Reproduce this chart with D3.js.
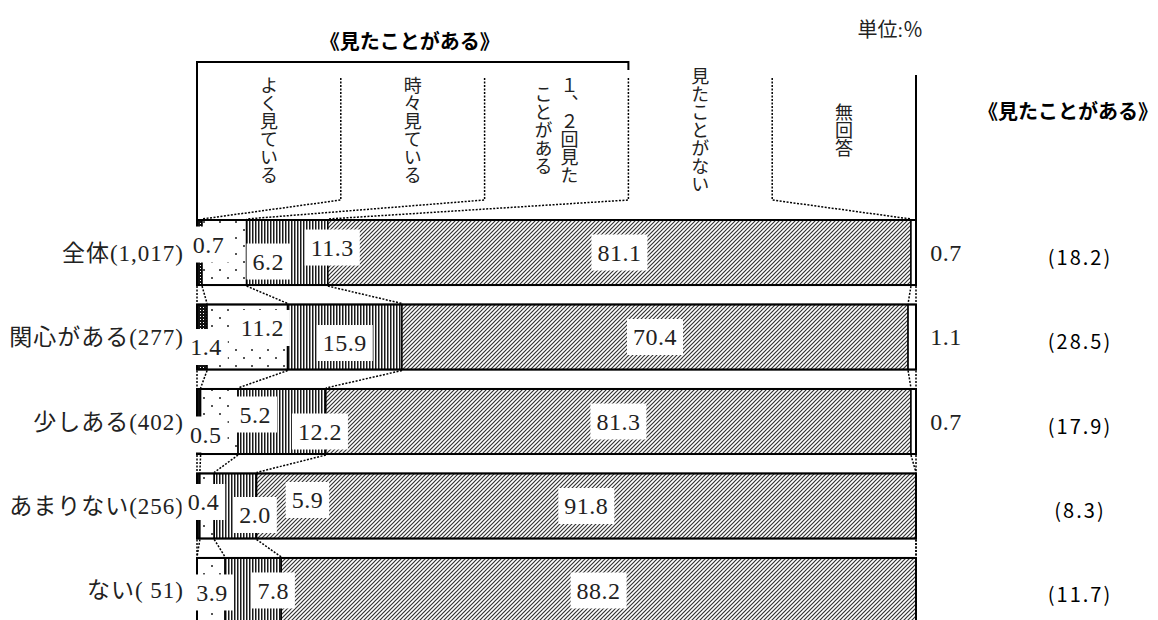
<!DOCTYPE html>
<html>
<head>
<meta charset="utf-8">
<script src="https://cdn.jsdelivr.net/npm/d3@7"></script>
<style>
  body { margin: 0; background: #fff; }
  svg { display: block; }
</style>
</head>
<body>
<svg width="1158" height="620"></svg>
<script>
// 回答者区分
var categories = ["全体(1,017)", "関心がある(277)", "少しある(402)", "あまりない(256)", "ない( 51)"];

// 各回答の割合（%）
var yokuMiteiru = [0.7, 1.4, 0.5, 0.4, 0.0];
var tokidokiMiteiru = [6.2, 11.2, 5.2, 2.0, 3.9];
var ichiNikaiMita = [11.3, 15.9, 12.2, 5.9, 7.8];
var mitaKotoNai = [81.1, 70.4, 81.3, 91.8, 88.2];
var muKaitou = [0.7, 1.1, 0.7, 0.0, 0.0];

// 《見たことがある》の合計
var mitaKotoAru = [18.2, 28.5, 17.9, 8.3, 11.7];

// 上の見出し（縦書き、列ごとに行を分ける）
var headerLabels = [["よく見ている"], ["時々見ている"], ["１、２回見た", "ことがある"], ["見たことがない"], ["無回答"]];

var keys = ["s0", "s1", "s2", "s3", "s4"];
var rows = categories.map(function (c, i) {
  return { cat: c, s0: yokuMiteiru[i], s1: tokidokiMiteiru[i], s2: ichiNikaiMita[i], s3: mitaKotoNai[i], s4: muKaitou[i] };
});
var stacked = d3.stack().keys(keys).offset(d3.stackOffsetExpand)(rows);

// 小さい値のラベル位置の微調整（px）
var labelNudge = [
  [[9, -8], [44, 9], [45, -5]],
  [[4, 10], [15, -9], [0, 6]],
  [[7, 13], [36, -7], [38, 10]],
  [[5, -4], [48, 9], [72, -6]],
  [[0, 0], [1, 2], [20, 0]]
];

var svg = d3.select("svg");
var serif = "'Liberation Serif', 'Noto Sans CJK JP', serif";
var sans = "'Noto Sans CJK JP', sans-serif";

var x = d3.scaleLinear().domain([0, 1]).range([197, 916]);
var y = d3.scaleBand().domain(categories).range([220, 623]).paddingInner(0.23);
var bw = y.bandwidth();

// patterns
var defs = svg.append("defs");
var p0 = defs.append("pattern").attr("id", "pat0").attr("patternUnits", "userSpaceOnUse")
  .attr("width", 3).attr("height", 3);
p0.append("rect").attr("width", 3).attr("height", 3).attr("fill", "#111");
p0.append("rect").attr("x", 2).attr("y", 1).attr("width", 1).attr("height", 1).attr("fill", "#fff");

var p1 = defs.append("pattern").attr("id", "pat1").attr("patternUnits", "userSpaceOnUse")
  .attr("width", 16).attr("height", 16);
p1.append("rect").attr("width", 16).attr("height", 16).attr("fill", "#fff");
p1.append("rect").attr("x", 3).attr("y", 5).attr("width", 2).attr("height", 2).attr("fill", "#555");
p1.append("rect").attr("x", 11).attr("y", 13).attr("width", 2).attr("height", 2).attr("fill", "#555");

var p2 = defs.append("pattern").attr("id", "pat2").attr("patternUnits", "userSpaceOnUse")
  .attr("width", 3).attr("height", 3);
p2.append("rect").attr("width", 3).attr("height", 3).attr("fill", "#fff");
p2.append("rect").attr("width", 1.5).attr("height", 3).attr("fill", "#1a1a1a");

var p3 = defs.append("pattern").attr("id", "pat3").attr("patternUnits", "userSpaceOnUse")
  .attr("width", 4).attr("height", 4);
p3.append("rect").attr("width", 4).attr("height", 4).attr("fill", "#fff");
p3.append("path").attr("d", "M-1,1 l2,-2 M0,4 l4,-4 M3,5 l2,-2")
  .attr("stroke", "#333").attr("stroke-width", 1.2);

var fills = ["url(#pat0)", "url(#pat1)", "url(#pat2)", "url(#pat3)", "#fff"];

// 棒
var layers = svg.append("g").selectAll("g")
  .data(stacked)
  .enter()
  .append("g")
  .attr("fill", function (d, k) { return fills[k]; });

layers.selectAll("rect")
  .data(function (d) { return d.filter(function (s) { return s[1] - s[0] > 0; }); })
  .enter()
  .append("rect")
  .attr("x", function (d) { return x(d[0]); })
  .attr("y", function (d) { return y(d.data.cat); })
  .attr("width", function (d) { return x(d[1]) - x(d[0]); })
  .attr("height", bw)
  .attr("stroke", "#000")
  .attr("stroke-width", 1.5);

svg.append("g").selectAll("rect")
  .data(categories)
  .enter()
  .append("rect")
  .attr("x", x(0))
  .attr("y", function (d) { return y(d); })
  .attr("width", x(1) - x(0))
  .attr("height", bw)
  .attr("fill", "none")
  .attr("stroke", "#000")
  .attr("stroke-width", 2);

// 棒と棒の間の点線
function boundary(i, k) {
  return k == 0 ? 0 : stacked[k - 1][i][1];
}
var connectors = [];
for (var i = 0; i < categories.length - 1; i++) {
  for (var k = 0; k <= keys.length; k++) {
    connectors.push({ from: boundary(i, k), to: boundary(i + 1, k), row: i });
  }
}
svg.append("g").selectAll("line")
  .data(connectors)
  .enter()
  .append("line")
  .attr("x1", function (d) { return x(d.from); })
  .attr("x2", function (d) { return x(d.to); })
  .attr("y1", function (d) { return y(categories[d.row]) + bw + 1; })
  .attr("y2", function (d) { return y(categories[d.row + 1]) - 1; })
  .attr("stroke", "#000")
  .attr("stroke-width", 1.5)
  .attr("stroke-dasharray", "2,1.5");

// 見出し
var head = svg.append("g");
var topY = y(categories[0]);
head.append("path")
  .attr("d", "M" + x(0) + "," + topY + "V62H" + x(0.6) + "V70")
  .attr("fill", "none").attr("stroke", "#000").attr("stroke-width", 2);
head.append("line")
  .attr("x1", x(1)).attr("x2", x(1)).attr("y1", 75).attr("y2", topY)
  .attr("stroke", "#000").attr("stroke-width", 2);

var dividers = [1, 2, 3, 4];
head.selectAll(".div")
  .data(dividers)
  .enter()
  .append("path")
  .attr("class", "div")
  .attr("d", function (k) {
    return "M" + x(k / 5) + ",78V200L" + x(boundary(0, k)) + "," + (topY - 1);
  })
  .attr("fill", "none")
  .attr("stroke", "#000")
  .attr("stroke-width", 1.5)
  .attr("stroke-dasharray", "2,1.5");

headerLabels.forEach(function (lines, c) {
  var cx = x((c + 0.5) / 5);
  lines.forEach(function (t, j) {
    var off = (lines.length - 1) * 13 - j * 26;
    head.append("text")
      .attr("x", cx + off)
      .attr("y", 130)
      .attr("text-anchor", "middle")
      .style("writing-mode", "vertical-rl")
      .style("font-family", sans)
      .style("font-size", "18px")
      .attr("fill", "#222")
      .text(t);
  });
});

head.append("text")
  .attr("x", x(0.3) - 3).attr("y", 49)
  .attr("text-anchor", "middle")
  .style("font-family", sans).style("font-size", "20px").style("font-weight", "bold")
  .text("《見たことがある》");

head.append("text")
  .attr("x", 923).attr("y", 37)
  .attr("text-anchor", "end")
  .style("font-family", serif).style("font-size", "20px")
  .attr("fill", "#222")
  .text("単位:％");

head.append("text")
  .attr("x", 1068).attr("y", 119)
  .attr("text-anchor", "middle")
  .style("font-family", sans).style("font-size", "20px").style("font-weight", "bold")
  .text("《見たことがある》");

// 区分ラベル
svg.append("g").selectAll("text")
  .data(categories)
  .enter()
  .append("text")
  .attr("x", 184)
  .attr("y", function (d) { return y(d) + bw / 2 + 8; })
  .attr("text-anchor", "end")
  .style("font-family", serif)
  .style("font-size", "23px")
  .style("letter-spacing", "1px")
  .attr("fill", "#222")
  .text(function (d) { return d; });

// 合計
svg.append("g").selectAll("text")
  .data(mitaKotoAru)
  .enter()
  .append("text")
  .attr("x", 1080)
  .attr("y", function (d, i) { return y(categories[i]) + bw / 2 + 12; })
  .attr("text-anchor", "middle")
  .style("font-family", sans)
  .style("font-size", "20px")
  .style("letter-spacing", "2px")
  .text(function (d) { return "(" + d.toFixed(1) + ")"; });

// 値ラベル
var labels = [];
stacked.forEach(function (layer, k) {
  layer.forEach(function (s, i) {
    var v = s.data[keys[k]];
    if (v <= 0) return;
    var cx = x((s[0] + s[1]) / 2), cy = y(s.data.cat) + bw / 2;
    var boxed = true;
    if (k < 3) {
      cx += labelNudge[i][k][0];
      cy += labelNudge[i][k][1];
    } else if (k == 4) {
      cx = x(1) + 30;
      boxed = false;
    }
    labels.push({ text: v.toFixed(1), x: cx, y: cy, boxed: boxed });
  });
});

var lab = svg.append("g").selectAll("g")
  .data(labels)
  .enter()
  .append("g");

lab.append("text")
  .attr("x", function (d) { return d.x; })
  .attr("y", function (d) { return d.y; })
  .attr("dy", "0.34em")
  .attr("text-anchor", "middle")
  .style("font-family", serif)
  .style("font-size", "24px")
  .style("letter-spacing", "0.5px")
  .attr("fill", "#222")
  .text(function (d) { return d.text; });

lab.each(function (d) {
  if (!d.boxed) return;
  var g = d3.select(this);
  var bb = g.select("text").node().getBBox();
  g.insert("rect", "text")
    .attr("x", bb.x - 6)
    .attr("y", d.y - 18)
    .attr("width", bb.width + 12)
    .attr("height", 36)
    .attr("fill", "#fff");
});
</script>
</body>
</html>
